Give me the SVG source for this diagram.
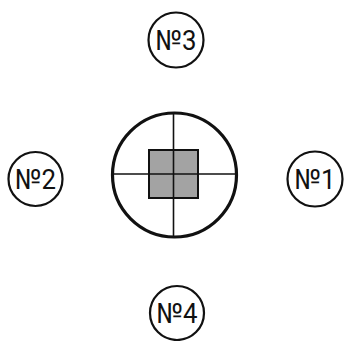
<svg xmlns="http://www.w3.org/2000/svg" width="346" height="341" viewBox="0 0 346 341">
<style>
.n{fill:#fff;stroke:#111;stroke-width:2.2}
.t{font-family:Roboto,"Liberation Sans",sans-serif;font-size:28px;fill:#111;text-anchor:middle}
</style>
<rect width="346" height="341" fill="#fff"/>
<g id="center">
<circle cx="174.5" cy="175" r="62" fill="#fff" stroke="#111" stroke-width="3.2"/>
<rect x="149" y="150" width="49" height="48" fill="#a3a3a3" stroke="#111" stroke-width="2"/>
</g>
<g id="connectors" stroke="#111" stroke-width="1.6">
<line x1="173.5" y1="113" x2="173.5" y2="237"/>
<line x1="112" y1="174" x2="237" y2="174"/>
</g>
<g id="n3"><circle class="n" cx="176" cy="40" r="27.5"/><text class="t" x="176" y="50" textLength="41" lengthAdjust="spacingAndGlyphs">№3</text></g>
<g id="n2"><circle class="n" cx="35.5" cy="179" r="27"/><text class="t" x="35.5" y="189" textLength="41" lengthAdjust="spacingAndGlyphs">№2</text></g>
<g id="n1"><circle class="n" cx="315" cy="179" r="27.5"/><text class="t" x="315" y="189" textLength="41" lengthAdjust="spacingAndGlyphs">№1</text></g>
<g id="n4"><circle class="n" cx="177" cy="313" r="27"/><text class="t" x="177" y="323" textLength="41" lengthAdjust="spacingAndGlyphs">№4</text></g>
</svg>
